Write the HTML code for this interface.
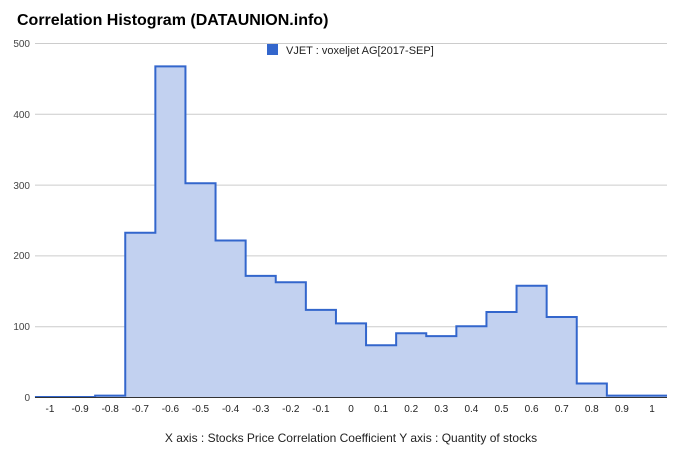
<!DOCTYPE html>
<html><head><meta charset="utf-8"><style>
html,body{margin:0;padding:0;background:#fff;}
svg{display:block;font-family:"Liberation Sans","Noto Sans CJK KR",sans-serif;}
</style></head><body>
<svg width="680" height="462" viewBox="0 0 680 462">
<text x="17" y="25" font-size="16" font-weight="bold" fill="#000">Correlation Histogram (DATAUNION.info)</text>
<g stroke="#ccc" stroke-width="1">
<line x1="35" x2="667" y1="43.5" y2="43.5"/>
<line x1="35" x2="667" y1="114.3" y2="114.3"/>
<line x1="35" x2="667" y1="185.1" y2="185.1"/>
<line x1="35" x2="667" y1="255.9" y2="255.9"/>
<line x1="35" x2="667" y1="326.7" y2="326.7"/>
</g>
<g font-size="10" fill="#444" text-anchor="end">
<text x="30" y="47">500</text><text x="30" y="118">400</text><text x="30" y="189">300</text>
<text x="30" y="259">200</text><text x="30" y="330">100</text><text x="30" y="401">0</text>
</g>
<path d="M34.95,397 H95.15 V395.6 H125.25 V232.7 H155.35 V66.4 H185.45 V183.2 H215.55 V240.5 H245.65 V275.9 H275.75 V282.3 H305.85 V309.9 H335.95 V323.4 H366.05 V345.3 H396.15 V333.3 H426.25 V336.1 H456.35 V326.2 H486.45 V312 H516.55 V285.8 H546.65 V317 H576.75 V383.5 H606.85 V395.6 H667 V397 Z" fill="#c2d1f0" stroke="none"/>
<path d="M34.95,397 H95.15 V395.6 H125.25 V232.7 H155.35 V66.4 H185.45 V183.2 H215.55 V240.5 H245.65 V275.9 H275.75 V282.3 H305.85 V309.9 H335.95 V323.4 H366.05 V345.3 H396.15 V333.3 H426.25 V336.1 H456.35 V326.2 H486.45 V312 H516.55 V285.8 H546.65 V317 H576.75 V383.5 H606.85 V395.6 H667" fill="none" stroke="#3366cc" stroke-width="2"/>
<line x1="35" x2="667" y1="397.5" y2="397.5" stroke="#333" stroke-width="1"/>
<g font-size="10" fill="#222" text-anchor="middle">
<text x="50" y="412">-1</text><text x="80.1" y="412">-0.9</text><text x="110.2" y="412">-0.8</text>
<text x="140.3" y="412">-0.7</text><text x="170.4" y="412">-0.6</text><text x="200.5" y="412">-0.5</text>
<text x="230.6" y="412">-0.4</text><text x="260.7" y="412">-0.3</text><text x="290.8" y="412">-0.2</text>
<text x="320.9" y="412">-0.1</text><text x="351" y="412">0</text><text x="381.1" y="412">0.1</text>
<text x="411.2" y="412">0.2</text><text x="441.3" y="412">0.3</text><text x="471.4" y="412">0.4</text>
<text x="501.5" y="412">0.5</text><text x="531.6" y="412">0.6</text><text x="561.7" y="412">0.7</text>
<text x="591.8" y="412">0.8</text><text x="621.9" y="412">0.9</text><text x="652" y="412">1</text>
</g>
<rect x="267" y="44" width="11" height="11" fill="#3366cc"/>
<text x="286" y="54" font-size="11" fill="#222">VJET : voxeljet AG[2017-SEP]</text>
<text x="351" y="442" font-size="12" fill="#222" text-anchor="middle">X axis : Stocks Price Correlation Coefficient  Y axis : Quantity of stocks</text>
</svg>
</body></html>
